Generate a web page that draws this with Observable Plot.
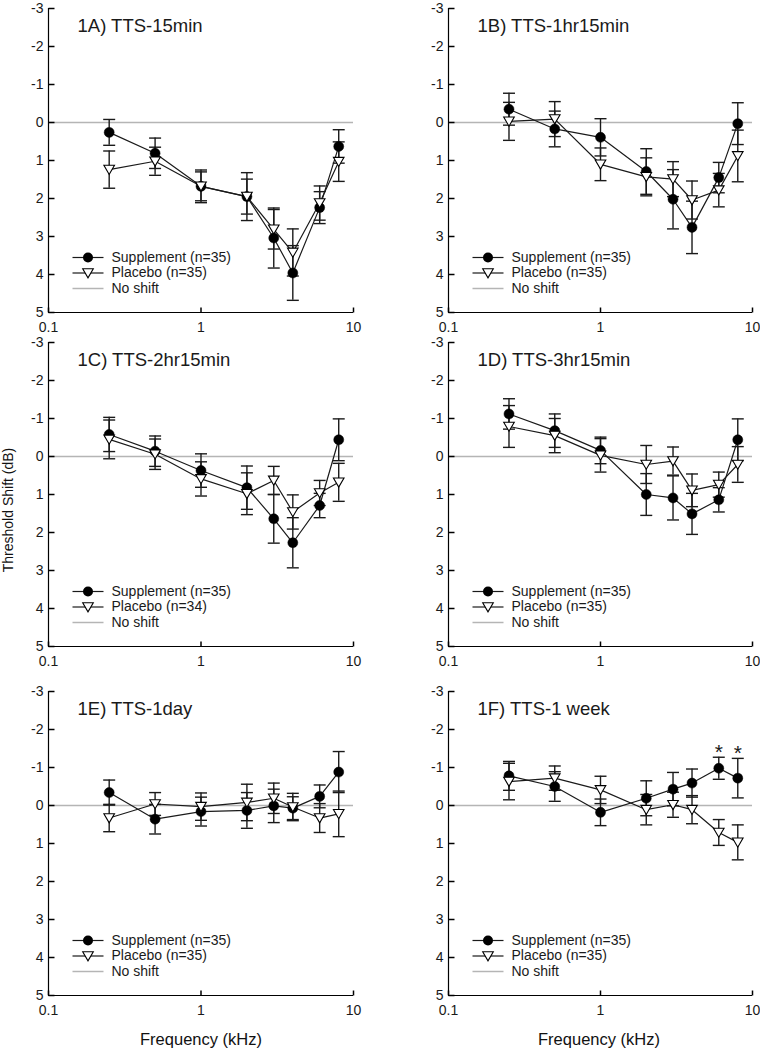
<!DOCTYPE html>
<html><head><meta charset="utf-8">
<script src="https://cdn.jsdelivr.net/npm/d3@7"></script>
<script src="https://cdn.jsdelivr.net/npm/@observablehq/plot@0.6"></script>
<style>
html,body{margin:0;padding:0;background:#fff;}
#page{position:relative;width:760px;height:1050px;overflow:hidden;font-family:"Liberation Sans",Arial,sans-serif;color:#111;}
.panel{position:absolute;}
.lab{position:absolute;white-space:nowrap;line-height:1;color:#111;}
</style></head><body><div id="page"></div>
<script>
// ---------- data ----------
const freqs = [0.25, 0.5, 1, 2, 3, 4, 6, 8];           // kHz
const panelTitles = ["1A) TTS-15min", "1B) TTS-1hr15min", "1C) TTS-2hr15min", "1D) TTS-3hr15min", "1E) TTS-1day", "1F) TTS-1 week"];
const suppN = [35, 35, 35, 35, 35, 35];
const placN = [35, 35, 34, 35, 35, 35];
// Supplement mean threshold shift (dB) per panel
const suppMean = [
  [0.26, 0.81, 1.68, 1.95, 3.04, 3.96, 2.24, 0.63],
  [-0.35, 0.17, 0.39, 1.29, 2.02, 2.76, 1.45, 0.03],
  [-0.58, -0.14, 0.37, 0.82, 1.64, 2.27, 1.29, -0.44],
  [-1.12, -0.68, -0.16, 1.00, 1.09, 1.51, 1.14, -0.44],
  [-0.34, 0.36, 0.16, 0.13, 0.01, 0.07, -0.24, -0.88],
  [-0.78, -0.50, 0.18, -0.19, -0.43, -0.59, -0.98, -0.72]
];
const suppSE = [
  [0.34, 0.40, 0.43, 0.63, 0.79, 0.72, 0.42, 0.44],
  [0.42, 0.47, 0.49, 0.60, 0.78, 0.69, 0.40, 0.55],
  [0.45, 0.40, 0.44, 0.57, 0.64, 0.66, 0.32, 0.55],
  [0.40, 0.44, 0.35, 0.55, 0.58, 0.54, 0.32, 0.55],
  [0.33, 0.39, 0.38, 0.47, 0.44, 0.30, 0.30, 0.54],
  [0.38, 0.39, 0.35, 0.46, 0.44, 0.37, 0.29, 0.52]
];
// Placebo mean threshold shift (dB) per panel
const placMean = [
  [1.24, 1.02, 1.68, 1.95, 2.81, 3.42, 2.12, 1.03],
  [-0.03, -0.09, 1.10, 1.43, 1.49, 2.04, 1.78, 0.88],
  [-0.45, -0.06, 0.59, 0.98, 0.63, 1.46, 0.96, 0.68],
  [-0.79, -0.55, -0.03, 0.21, 0.12, 0.89, 0.74, 0.21],
  [0.33, -0.04, 0.03, -0.08, -0.19, 0.04, 0.33, 0.22],
  [-0.63, -0.72, -0.41, 0.11, -0.02, 0.11, 0.71, 0.97]
];
const placSE = [
  [0.49, 0.37, 0.38, 0.46, 0.52, 0.62, 0.45, 0.52],
  [0.50, 0.46, 0.43, 0.50, 0.46, 0.50, 0.44, 0.68],
  [0.51, 0.40, 0.45, 0.55, 0.37, 0.45, 0.33, 0.50],
  [0.55, 0.45, 0.44, 0.50, 0.37, 0.43, 0.33, 0.47],
  [0.36, 0.30, 0.36, 0.48, 0.40, 0.36, 0.38, 0.60],
  [0.48, 0.32, 0.36, 0.40, 0.33, 0.37, 0.34, 0.46]
];
const sigFreqs = [[], [], [], [], [], [6, 8]];   // significant differences (*)
const noShift = 0;
const xDomain = [0.1, 10];
const yDomain = [-3, 5];
const xTicks = [0.1, 1, 10];
const xTickLabels = ["0.1", "1", "10"];
const yTicks = [-3, -2, -1, 0, 1, 2, 3, 4, 5];
const yTickLabels = ["-3", "-2", "-1", "0", "1", "2", "3", "4", "5"];
const xTitle = "Frequency (kHz)";
const yTitle = "Threshold Shift (dB)";

// ---------- styling / layout ----------
const FONT = '"Liberation Sans", Arial, sans-serif';
const INK = "#1a1a1a";
const GRAY = "#b5b5b5";
const panelLeft = [0, 400, 0, 400, 0, 400];
const panelTop = [0, 0, 334, 334, 683, 683];

const capSym = {draw(c){ c.moveTo(-6, 0); c.lineTo(6, 0); }};
const invTri = {draw(c){ c.moveTo(-5.3, -4.3); c.lineTo(5.3, -4.3); c.lineTo(0, 4.8); c.closePath(); }};
const yTickSym = {draw(c){ c.moveTo(0, 0); c.lineTo(6, 0); }};
const xTickSym = {draw(c){ c.moveTo(0, 0); c.lineTo(0, -5); }};
const legLine = {draw(c){ c.moveTo(-15.5, 0); c.lineTo(15.5, 0); }};

function makePanel(i) {
  const rows = freqs.map((f, j) => ({f, sm: suppMean[i][j], ss: suppSE[i][j], pm: placMean[i][j], ps: placSE[i][j]}));
  const sig = rows.filter(d => sigFreqs[i].includes(d.f));
  const left = i % 2 === 0;
  const errMarks = (m, s) => [
    Plot.ruleX(rows, {x: "f", y1: d => d[m] - d[s], y2: d => d[m] + d[s], stroke: INK, strokeWidth: 1.4}),
    Plot.dot(rows, {x: "f", y: d => d[m] - d[s], symbol: capSym, fill: "none", stroke: INK, strokeWidth: 1.4}),
    Plot.dot(rows, {x: "f", y: d => d[m] + d[s], symbol: capSym, fill: "none", stroke: INK, strokeWidth: 1.4})
  ];
  const legY = [249, 264.5, 280];
  const legendText = [`Supplement (n=${suppN[i]})`, `Placebo (n=${placN[i]})`, "No shift"];
  return Plot.plot({
    width: left ? 380 : 360,
    height: 340,
    marginLeft: 48, marginRight: left ? 27 : 8, marginTop: 8, marginBottom: 28,
    x: {type: "log", domain: xDomain},
    y: {domain: yDomain, reverse: true},
    style: {fontFamily: FONT, fontSize: "14px", color: INK, background: "transparent", overflow: "visible"},
    marks: [
      Plot.ruleY([noShift], {stroke: GRAY, strokeWidth: 1.5}),
      Plot.ruleX([xDomain[0]], {stroke: "#000", strokeWidth: 1.2}),
      Plot.ruleY([yDomain[1]], {stroke: "#000", strokeWidth: 1.2}),
      Plot.dot(yTicks, {x: () => xDomain[0], y: d => d, symbol: yTickSym, fill: "none", stroke: "#000"}),
      Plot.dot(xTicks, {x: d => d, y: () => yDomain[1], symbol: xTickSym, fill: "none", stroke: "#000"}),
      Plot.axisY({ticks: yTicks, tickSize: 0, tickPadding: 5, label: null, fontSize: 14, tickFormat: d => yTickLabels[yTicks.indexOf(d)]}),
      Plot.axisX({ticks: xTicks, tickSize: 0, tickPadding: 10, label: null, fontSize: 14, tickFormat: d => xTickLabels[xTicks.indexOf(d)]}),
      ...errMarks("sm", "ss"),
      ...errMarks("pm", "ps"),
      Plot.line(rows, {x: "f", y: "sm", stroke: INK, strokeWidth: 1.2}),
      Plot.line(rows, {x: "f", y: "pm", stroke: INK, strokeWidth: 1.2}),
      Plot.dot(rows, {x: "f", y: "sm", r: 5, fill: "#000", stroke: "#000", strokeWidth: 0.5}),
      Plot.dot(rows, {x: "f", y: "pm", symbol: invTri, fill: "#fff", stroke: "#000", strokeWidth: 1.1}),
      Plot.text(sig, {x: "f", y: d => d.sm - d.ss, text: () => "*", dy: 2, lineAnchor: "bottom", fontSize: 21, fill: INK}),
      Plot.text([panelTitles[i]], {frameAnchor: "top-left", dx: 29, dy: 23, textAnchor: "start", lineAnchor: "bottom", fontSize: 18.5, fill: INK}),
      // legend
      Plot.dot([0], {frameAnchor: "top-left", dx: 39.5, dy: legY[0], symbol: legLine, fill: "none", stroke: INK, strokeWidth: 1.2}),
      Plot.dot([0], {frameAnchor: "top-left", dx: 39.5, dy: legY[0], r: 5, fill: "#000"}),
      Plot.dot([0], {frameAnchor: "top-left", dx: 39.5, dy: legY[1], symbol: legLine, fill: "none", stroke: INK, strokeWidth: 1.2}),
      Plot.dot([0], {frameAnchor: "top-left", dx: 39.5, dy: legY[1], symbol: invTri, fill: "#fff", stroke: "#000", strokeWidth: 1.1}),
      Plot.dot([0], {frameAnchor: "top-left", dx: 39.5, dy: legY[2], symbol: legLine, fill: "none", stroke: GRAY, strokeWidth: 1.5}),
      ...legendText.map((t, k) => Plot.text([t], {frameAnchor: "top-left", dx: 63, dy: legY[k], textAnchor: "start", lineAnchor: "middle", fontSize: 14, fill: INK}))
    ]
  });
}

const page = document.getElementById("page");
panelTitles.forEach((t, i) => {
  const div = document.createElement("div");
  div.className = "panel";
  div.style.left = panelLeft[i] + "px";
  div.style.top = panelTop[i] + "px";
  div.appendChild(makePanel(i));
  page.appendChild(div);
});

function addLabel(text, css) {
  const d = document.createElement("div");
  d.className = "lab";
  d.textContent = text;
  Object.assign(d.style, css);
  page.appendChild(d);
}
addLabel(xTitle, {left: "201px", top: "1031px", fontSize: "16.5px", transform: "translateX(-50%)"});
addLabel(xTitle, {left: "599px", top: "1031px", fontSize: "16.5px", transform: "translateX(-50%)"});
addLabel(yTitle, {left: "8px", top: "510px", fontSize: "14px", transform: "translate(-50%,-50%) rotate(-90deg)"});
</script></body></html>
